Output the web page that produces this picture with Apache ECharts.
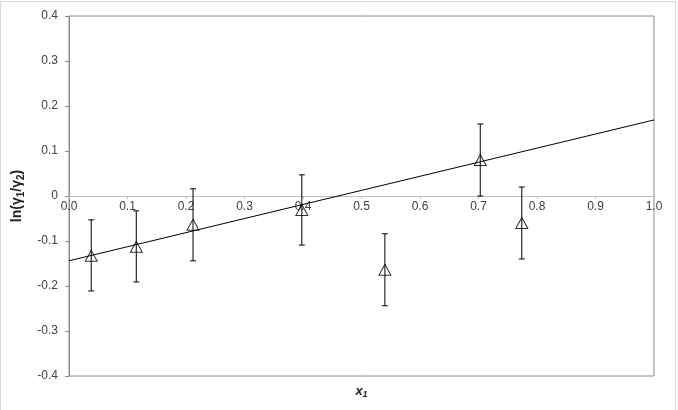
<!DOCTYPE html>
<html><head><meta charset="utf-8">
<script src="https://cdn.jsdelivr.net/npm/echarts@6/dist/echarts.min.js"></script>
<style>html,body{margin:0;padding:0;background:#fff}#c{width:678px;height:410px}</style>
</head><body><div id="c"></div>
<script>
var xVals = [0.038, 0.115, 0.212, 0.398, 0.540, 0.703, 0.774];
var yVals = [-0.133, -0.113, -0.064, -0.031, -0.164, 0.080, -0.060];
var errLow = [-0.211, -0.191, -0.144, -0.109, -0.244, 0.000, -0.140];
var errHigh = [-0.053, -0.033, 0.016, 0.047, -0.084, 0.160, 0.020];
var fitX = [0, 1];
var fitY = [-0.144, 0.169];
var xTicks = ['0.0','0.1','0.2','0.3','0.4','0.5','0.6','0.7','0.8','0.9','1.0'];

var chart = echarts.init(document.getElementById('c'), null, {renderer:'canvas'});
var font = 'Liberation Sans';
var gridH = 410 - 16 - 34;
chart.setOption({
  animation:false,
  graphic:[{type:'rect', shape:{x:0.5,y:1.5,width:675,height:412}, style:{fill:'none', stroke:'#d9d9d9', lineWidth:1}, silent:true}],
  grid:{left:69, right:24, top:16, bottom:34, show:true, borderColor:'#8c8c8c', borderWidth:1},
  xAxis:[{type:'value', min:0, max:1, interval:0.1, position:'bottom', offset:-gridH/2,
    axisLine:{onZero:false, lineStyle:{color:'#bfbfbf'}},
    axisTick:{show:true, length:3, inside:false, lineStyle:{color:'#bfbfbf'}},
    splitLine:{show:false},
    axisLabel:{fontFamily:font, fontSize:12, color:'#404040', margin:5,
      formatter:function(v){return xTicks[Math.round(v*10)];}}
  },{type:'value', min:0, max:1, position:'bottom',
    axisLine:{show:false}, axisTick:{show:false}, axisLabel:{show:false}, splitLine:{show:false},
    name:'{b|x}{s|1}', nameLocation:'middle', nameGap:8,
    nameTextStyle:{rich:{b:{fontFamily:font,fontSize:13,fontWeight:'bold',fontStyle:'italic',color:'#222'},
      s:{fontFamily:font,fontSize:9,fontWeight:'bold',fontStyle:'italic',color:'#222',padding:[6,0,0,0]}}}
  }],
  yAxis:{type:'value', min:-0.4, max:0.4, interval:0.1,
    axisLine:{show:true, lineStyle:{color:'#8c8c8c'}},
    axisTick:{show:true, length:4, lineStyle:{color:'#8c8c8c'}},
    splitLine:{show:false},
    axisLabel:{fontFamily:font, fontSize:12, color:'#404040', margin:11,
      formatter:function(v){ if(Math.abs(v)<1e-9) return '0'; return v.toFixed(1);}},
    name:'{b|ln(γ}{s|1}{b|/γ}{s|2}{b|)}', nameLocation:'middle', nameGap:38, nameRotate:90,
    nameTextStyle:{rich:{b:{fontFamily:font,fontSize:14,fontWeight:'bold',color:'#222'},
      s:{fontFamily:font,fontSize:10,fontWeight:'bold',color:'#222',padding:[8,0,0,0]}}}
  },
  series:[
    {type:'line', data:fitX.map(function(x,i){return [x,fitY[i]];}), symbol:'none',
      lineStyle:{color:'#000', width:1}, z:2},
    {type:'custom', z:3,
      data:xVals.map(function(x,i){return [x, errLow[i], errHigh[i]];}),
      renderItem:function(params, api){
        var lo = api.coord([api.value(0), api.value(1)]);
        var hi = api.coord([api.value(0), api.value(2)]);
        var w = 3;
        var st = {stroke:'#000', lineWidth:1};
        return {type:'group', children:[
          {type:'line', shape:{x1:lo[0],y1:lo[1],x2:hi[0],y2:hi[1]}, style:st},
          {type:'line', shape:{x1:lo[0]-w,y1:lo[1],x2:lo[0]+w,y2:lo[1]}, style:st},
          {type:'line', shape:{x1:hi[0]-w,y1:hi[1],x2:hi[0]+w,y2:hi[1]}, style:st}
        ]};
      }},
    {type:'scatter', z:4, data:xVals.map(function(x,i){return [x,yVals[i]];}),
      symbol:'triangle', symbolSize:[12,11],
      itemStyle:{color:'rgba(255,255,255,0)', borderColor:'#000', borderWidth:1}}
  ]
});
</script>
</body></html>
